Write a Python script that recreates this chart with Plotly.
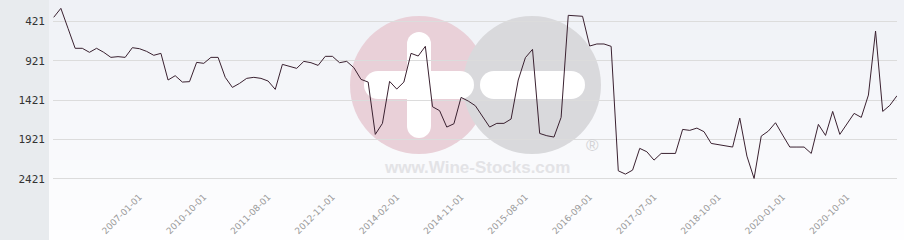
import plotly.graph_objects as go

# ---------------- data ----------------
ranks = [370, 256, 510, 764, 764, 815, 764, 815, 879, 870,
         879, 756, 769, 803, 853, 828, 1167, 1112, 1193, 1188,
         943, 955, 879, 879, 1133, 1261, 1210, 1146, 1133, 1146,
         1180, 1286, 968, 993, 1019, 930, 947, 981, 866, 866,
         947, 930, 1010, 1159, 1193, 1858, 1718, 1184, 1282, 1193,
         828, 862, 739, 1506, 1557, 1765, 1723, 1388, 1434, 1494,
         1634, 1765, 1718, 1718, 1663, 1167, 883, 777, 1846, 1875,
         1892, 1642, 345, 353, 357, 735, 709, 709, 739, 2321,
         2363, 2312, 2036, 2079, 2185, 2100, 2100, 2100, 1795, 1807,
         1778, 1824, 1973, 1986, 1998, 2019, 1651, 2134, 2418, 1880,
         1816, 1710, 1867, 2019, 2019, 2019, 2100, 1731, 1871, 1566,
         1858, 1727, 1591, 1642, 1358, 544, 1566, 1489, 1366]
positions = list(range(len(ranks)))

tick_positions = [12, 21, 30, 39, 48, 57, 66, 75, 84, 93, 102, 111]
tick_labels = ["2007-01-01", "2010-10-01", "2011-08-01", "2012-11-01",
               "2014-02-01", "2014-11-01", "2015-08-01", "2016-09-01",
               "2017-07-01", "2018-10-01", "2020-01-01", "2020-10-01"]
y_ticks = [421, 921, 1421, 1921, 2421]

# ---------------- layout geometry (pixels) ----------------
W, H = 904, 240
L, R, T, B = 53, 7, 0, 54
PW, PH = W - L - R, H - T - B
X_RANGE = [-0.1, len(ranks) - 1]
Y_RANGE = [2514, 150]


def px(x):
    return (x - L) / PW


def py(y):
    return 1 - (y - T) / PH


def dx(x):
    return X_RANGE[0] + (x - L) / PW * (X_RANGE[1] - X_RANGE[0])


def dy(y):
    return Y_RANGE[1] + (y - T) / PH * (Y_RANGE[0] - Y_RANGE[1])


shapes = []

# gradient background (bands)
top_c = (239, 241, 246)
bot_c = (254, 254, 255)
n_b = 24
for k in range(n_b):
    t = k / (n_b - 1)
    c = tuple(round(top_c[j] + (bot_c[j] - top_c[j]) * t) for j in range(3))
    y0 = H * k / n_b
    y1 = H * (k + 1) / n_b + 0.5
    shapes.append(dict(type="rect", xref="paper", yref="paper", layer="below",
                       x0=px(49), x1=px(W), y0=py(y1), y1=py(y0),
                       fillcolor="rgb(%d,%d,%d)" % c, line=dict(width=0)))

# left grey panel
shapes.append(dict(type="rect", xref="paper", yref="paper", layer="below",
                   x0=px(0), x1=px(49), y0=py(H), y1=py(0),
                   fillcolor="#e8ebee", line=dict(width=0)))


def circle(cx, cy, r, color):
    shapes.append(dict(type="circle", xref="x", yref="y", layer="below",
                       x0=dx(cx - r), x1=dx(cx + r), y0=dy(cy + r), y1=dy(cy - r),
                       fillcolor=color, line=dict(width=0)))


def rect(x0, y0, x1, y1, color):
    shapes.append(dict(type="rect", xref="x", yref="y", layer="below",
                       x0=dx(x0), x1=dx(x1), y0=dy(y1), y1=dy(y0),
                       fillcolor=color, line=dict(width=0)))


def hbar(x0, x1, cy, h, color):
    r = h / 2
    rect(x0 + r, cy - r, x1 - r, cy + r, color)
    circle(x0 + r, cy, r, color)
    circle(x1 - r, cy, r, color)


def vbar(cx, y0, y1, w, color):
    r = w / 2
    rect(cx - r, y0 + r, cx + r, y1 - r, color)
    circle(cx, y0 + r, r, color)
    circle(cx, y1 - r, r, color)


# watermark logo
circle(419, 85, 69, "#e9d0d8")
circle(532, 85, 69, "#d9d9dc")
vbar(419, 32, 138, 24, "#ffffff")
hbar(364, 474, 85, 28, "#ffffff")
hbar(480, 585, 85, 28, "#ffffff")

fig = go.Figure()
fig.add_trace(go.Scatter(
    x=positions, y=ranks, mode="lines",
    line=dict(color="#3a2130", width=1),
    hoverinfo="skip", showlegend=False,
))

fig.update_layout(
    width=W, height=H,
    margin=dict(l=L, r=R, t=T, b=B, pad=0),
    paper_bgcolor="#ffffff",
    plot_bgcolor="rgba(0,0,0,0)",
    shapes=shapes,
    showlegend=False,
    annotations=[
        dict(text="<b>www.Wine-Stocks.com</b>", xref="paper", yref="paper",
             x=px(477), y=py(167), xanchor="center", yanchor="middle",
             showarrow=False,
             font=dict(family="Liberation Sans, Arial", size=17, color="#e3e3e6")),
        dict(text="®", xref="paper", yref="paper",
             x=px(592), y=py(145), xanchor="center", yanchor="middle",
             showarrow=False,
             font=dict(family="Liberation Sans, Arial", size=17, color="#d3d3d6")),
    ],
    xaxis=dict(
        range=X_RANGE,
        tickmode="array", tickvals=tick_positions, ticktext=tick_labels,
        tickangle=-45, showgrid=False, zeroline=False, showline=False,
        ticks="", ticklabelstandoff=3,
        tickfont=dict(family="DejaVu Sans", size=9, color="#9a9a9a"),
    ),
    yaxis=dict(
        range=Y_RANGE,
        tickmode="array", tickvals=y_ticks,
        ticktext=[str(v) for v in y_ticks],
        showgrid=True, gridcolor="#dcdcdc", gridwidth=1,
        zeroline=False, showline=False, ticks="", ticklabelstandoff=7,
        tickfont=dict(family="DejaVu Sans Mono", size=11, color="#333333"),
    ),
)

fig.write_html("out.html")
